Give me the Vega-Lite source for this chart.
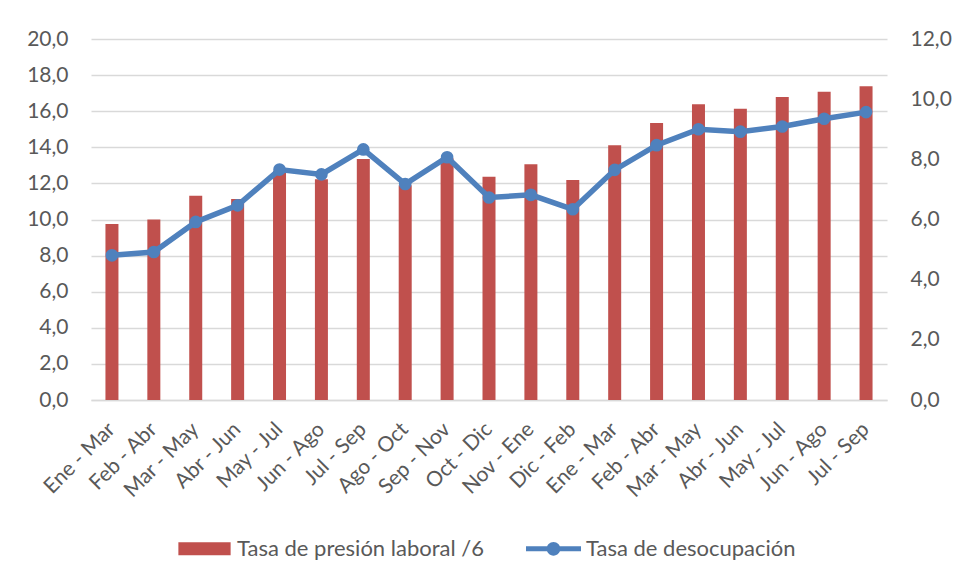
{
  "$schema": "https://vega.github.io/schema/vega-lite/v6.json",
  "width": 796,
  "height": 361,
  "autosize": {"type": "none"},
  "padding": {"left": 91, "top": 39, "right": 71, "bottom": 179},
  "background": "#ffffff",
  "config": {
    "font": "Lato",
    "view": {"stroke": null},
    "axis": {"labelFont": "Lato", "labelFontSize": 21, "labelColor": "#595959", "ticks": false, "titleFontSize": 0}
  },
  "data": {
    "values": [
      {"periodo": "Ene - Mar|1", "presion": 9.75, "desocupacion": 4.81},
      {"periodo": "Feb - Abr|2", "presion": 10.0, "desocupacion": 4.92},
      {"periodo": "Mar - May|3", "presion": 11.32, "desocupacion": 5.92},
      {"periodo": "Abr - Jun|4", "presion": 11.14, "desocupacion": 6.47},
      {"periodo": "May - Jul|5", "presion": 12.7, "desocupacion": 7.66},
      {"periodo": "Jun - Ago|6", "presion": 12.23, "desocupacion": 7.5},
      {"periodo": "Jul - Sep|7", "presion": 13.35, "desocupacion": 8.33},
      {"periodo": "Ago - Oct|8", "presion": 11.9, "desocupacion": 7.18},
      {"periodo": "Sep - Nov|9", "presion": 13.4, "desocupacion": 8.07},
      {"periodo": "Oct - Dic|10", "presion": 12.37, "desocupacion": 6.73},
      {"periodo": "Nov - Ene|11", "presion": 13.06, "desocupacion": 6.82},
      {"periodo": "Dic - Feb|12", "presion": 12.19, "desocupacion": 6.34},
      {"periodo": "Ene - Mar|13", "presion": 14.11, "desocupacion": 7.65},
      {"periodo": "Feb - Abr|14", "presion": 15.35, "desocupacion": 8.47},
      {"periodo": "Mar - May|15", "presion": 16.38, "desocupacion": 9.0},
      {"periodo": "Abr - Jun|16", "presion": 16.14, "desocupacion": 8.92},
      {"periodo": "May - Jul|17", "presion": 16.79, "desocupacion": 9.09},
      {"periodo": "Jun - Ago|18", "presion": 17.08, "desocupacion": 9.35},
      {"periodo": "Jul - Sep|19", "presion": 17.38, "desocupacion": 9.57}
    ]
  },
  "encoding": {
    "x": {
      "field": "periodo",
      "type": "ordinal",
      "sort": null,
      "scale": {"paddingInner": 0, "paddingOuter": 0},
      "axis": {
        "title": null,
        "labelExpr": "split(datum.value, '|')[0]",
        "labelAngle": -45,
        "labelAlign": "right",
        "labelBaseline": "middle",
        "labelPadding": 26,
        "domainColor": "#D9D9D9",
        "domainWidth": 1.5,
        "grid": false
      }
    }
  },
  "layer": [
    {
      "mark": {"type": "bar", "size": 13, "color": "#C0504D"},
      "encoding": {
        "y": {
          "field": "presion",
          "type": "quantitative",
          "scale": {"domain": [0, 20], "nice": false},
          "axis": {
            "title": null,
            "values": [0, 2, 4, 6, 8, 10, 12, 14, 16, 18, 20],
            "labelExpr": "replace(format(datum.value, '.1f'), '.', ',')",
            "labelPadding": 23,
            "domain": false,
            "grid": true,
            "gridColor": "#D9D9D9",
            "gridWidth": 1.5
          }
        },
        "color": {
          "datum": "Tasa de presión laboral /6",
          "type": "nominal",
          "scale": {"domain": ["Tasa de presión laboral /6", "Tasa de desocupación"], "range": ["#C0504D", "#4F81BD"]},
          "legend": {
            "title": null,
            "orient": "none",
            "direction": "horizontal",
            "legendX": 86,
            "legendY": 482,
            "padding": 0,
            "symbolSize": 3025,
            "labelFontSize": 22,
            "labelFont": "Lato",
            "labelColor": "#595959",
            "labelLimit": 0,
            "labelOffset": 5,
            "columnPadding": 42,
            "symbolStrokeWidth": 0,
            "encode": {
              "symbols": {
                "update": {
                  "shape": {"signal": "datum.value === 'Tasa de desocupación' ? 'M-1,-0.09H1V0.09H-1Z M-0.25,0A0.25,0.25 0 1 1 0.25,0A0.25,0.25 0 1 1 -0.25,0Z' : 'M-0.95,-0.24H0.95V0.24H-0.95Z'"},
                  "fill": {"signal": "datum.value === 'Tasa de desocupación' ? '#4F81BD' : '#C0504D'"},
                  "strokeWidth": {"value": 0},
                  "opacity": {"value": 1}
                }
              }
            }
          }
        }
      }
    },
    {
      "mark": {"type": "line", "color": "#4F81BD", "strokeWidth": 5.5, "point": {"filled": true, "size": 160, "color": "#4F81BD", "opacity": 1}},
      "encoding": {
        "y": {
          "field": "desocupacion",
          "type": "quantitative",
          "scale": {"domain": [0, 12], "nice": false},
          "axis": {
            "title": null,
            "orient": "right",
            "values": [0, 2, 4, 6, 8, 10, 12],
            "labelExpr": "replace(format(datum.value, '.1f'), '.', ',')",
            "labelPadding": 23,
            "domain": false,
            "grid": false
          }
        },
        "color": {"datum": "Tasa de desocupación", "type": "nominal"}
      }
    }
  ],
  "resolve": {"scale": {"y": "independent"}}
}
